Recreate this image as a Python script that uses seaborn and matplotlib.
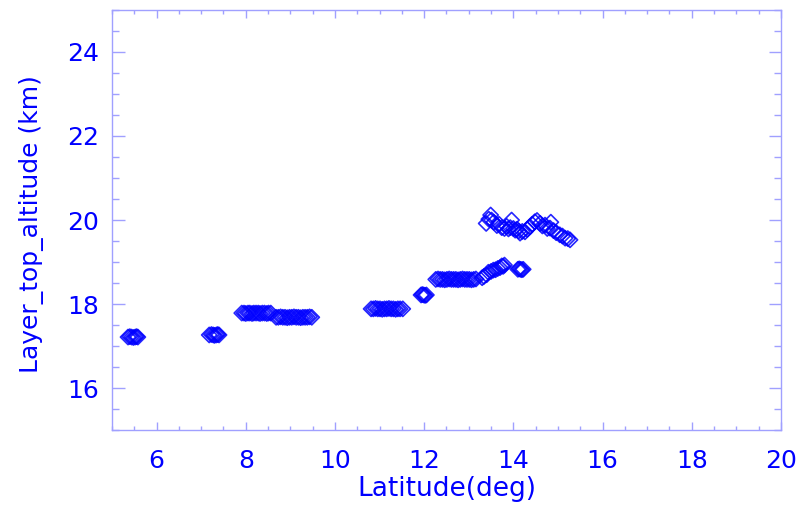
import pandas as pd
import seaborn as sns
from matplotlib import pyplot as plt
from matplotlib.ticker import MultipleLocator

# layer top altitude vs latitude
lat_a = [5.36, 5.40, 5.44, 5.48, 5.52, 5.55, 5.58]
alt_a = [17.22, 17.23, 17.22, 17.21, 17.22, 17.23, 17.22]

lat_b = [7.18, 7.23, 7.27, 7.30, 7.34, 7.37, 7.40]
alt_b = [17.27, 17.28, 17.27, 17.26, 17.27, 17.28, 17.27]

lat_c = [7.91, 7.96, 8.00, 8.05, 8.09, 8.14, 8.18, 8.23, 8.28, 8.32, 8.37, 8.42, 8.47, 8.51, 8.56]
alt_c = [17.79, 17.79, 17.78, 17.79, 17.79, 17.78, 17.79, 17.79, 17.79, 17.78, 17.79, 17.79, 17.78, 17.79, 17.79]

lat_d = [8.68, 8.73, 8.78, 8.83, 8.88, 8.93, 8.98, 9.03, 9.08, 9.13, 9.18, 9.23, 9.28, 9.33, 9.38, 9.43, 9.48]
alt_d = [17.69, 17.69, 17.70, 17.69, 17.69, 17.68, 17.69, 17.69, 17.70, 17.69, 17.69, 17.68, 17.69, 17.69, 17.69, 17.70, 17.69]

lat_e = [10.81, 10.86, 10.91, 10.96, 11.01, 11.06, 11.11, 11.16, 11.21, 11.26, 11.31, 11.36, 11.41, 11.46, 11.52]
alt_e = [17.89, 17.89, 17.90, 17.89, 17.89, 17.88, 17.89, 17.89, 17.90, 17.89, 17.89, 17.88, 17.89, 17.89, 17.89]

lat_f = [11.93, 11.96, 11.99, 12.02, 12.05]
alt_f = [18.22, 18.23, 18.22, 18.21, 18.22]

lat_g = [12.26, 12.31, 12.36, 12.41, 12.46, 12.51, 12.56, 12.61, 12.66, 12.71,
         12.76, 12.81, 12.86, 12.91, 12.96, 13.01, 13.06, 13.11, 13.16]
alt_g = [18.59, 18.60, 18.59, 18.59, 18.58, 18.59, 18.60, 18.59, 18.59, 18.59,
         18.58, 18.59, 18.60, 18.59, 18.59, 18.59, 18.58, 18.59, 18.60]

lat_h = [13.30, 13.34, 13.40, 13.44, 13.50, 13.55, 13.60, 13.65, 13.70, 13.74, 13.77, 13.80]
alt_h = [18.63, 18.66, 18.70, 18.76, 18.78, 18.81, 18.82, 18.85, 18.87, 18.91, 18.90, 18.93]

lat_i = [14.10, 14.13, 14.16, 14.19, 14.22]
alt_i = [18.83, 18.84, 18.83, 18.82, 18.83]

lat_top = [13.39, 13.45, 13.49, 13.51, 13.56, 13.63, 13.68, 13.74, 13.80, 13.85, 13.89, 13.93,
           13.96, 14.00, 14.04, 14.08, 14.12, 14.15, 14.20, 14.26, 14.31, 14.37, 14.42, 14.48,
           14.53, 14.60, 14.65, 14.71, 14.76, 14.82, 14.84, 14.90, 14.96, 15.04, 15.10, 15.16,
           15.22, 15.27]
alt_top = [19.92, 20.02, 20.12, 20.00, 19.95, 19.87, 19.90, 19.82, 19.80, 19.85, 19.79, 19.82,
           20.00, 19.80, 19.76, 19.78, 19.74, 19.69, 19.73, 19.72, 19.78, 19.84, 19.90, 19.96,
           19.99, 19.92, 19.86, 19.88, 19.80, 19.81, 19.95, 19.75, 19.70, 19.65, 19.62, 19.57,
           19.56, 19.53]

df = pd.DataFrame({
    'lat': lat_a + lat_b + lat_c + lat_d + lat_e + lat_f + lat_g + lat_h + lat_i + lat_top,
    'alt': alt_a + alt_b + alt_c + alt_d + alt_e + alt_f + alt_g + alt_h + alt_i + alt_top,
})

blue = '#0000ff'
light = '#a0a0ff'

sns.set_style('white')
plt.rcParams['font.family'] = ['DejaVu Sans']

fig = plt.figure(figsize=(8.01, 5.07), dpi=100)
ax = fig.add_axes([0.1398, 0.1509, 0.975 - 0.1398, 0.981 - 0.1509])

sns.scatterplot(data=df, x='lat', y='alt', ax=ax, marker='D', s=60,
                facecolors='none', edgecolors=blue, linewidth=1.2, alpha=0.85)

ax.set_xlim(5, 20)
ax.set_ylim(15, 25)
ax.xaxis.set_minor_locator(MultipleLocator(0.5))
ax.yaxis.set_minor_locator(MultipleLocator(0.5))
ax.set_xticks([6, 8, 10, 12, 14, 16, 18, 20])
ax.set_yticks([16, 18, 20, 22, 24])

for sp in ax.spines.values():
    sp.set_color(light)
    sp.set_linewidth(1.0)

ax.tick_params(axis='x', which='major', direction='in', length=6, width=1, color=light,
               top=True, bottom=True, labelsize=18, labelcolor=blue, pad=13)
ax.tick_params(axis='x', which='minor', direction='in', length=3, width=1, color=light,
               top=True, bottom=True)
ax.tick_params(axis='y', which='major', direction='in', length=9, width=1, color=light,
               left=True, right=True, labelsize=18, labelcolor=blue, pad=9)
ax.tick_params(axis='y', which='minor', direction='in', length=5, width=1, color=light,
               left=True, right=True)

ax.set_xlabel('Latitude(deg)', fontsize=19, color=blue)
ax.set_ylabel('Layer_top_altitude (km)', fontsize=18, color=blue)
ax.xaxis.set_label_coords(0.5, -0.108)
ax.yaxis.set_label_coords(-0.102, 0.49)

fig.savefig('out.png', dpi=100)
